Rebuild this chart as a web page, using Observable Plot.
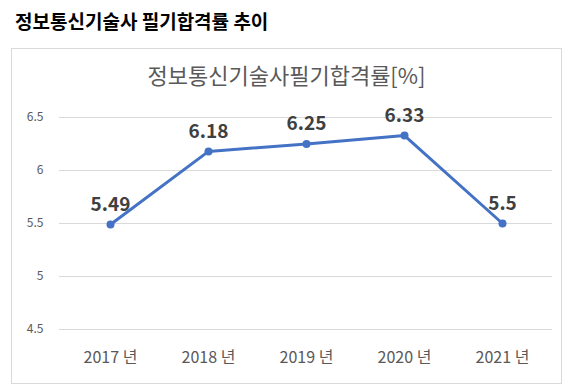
<!DOCTYPE html>
<html><head><meta charset="utf-8">
<script src="https://cdn.jsdelivr.net/npm/d3@7"></script>
<script src="https://cdn.jsdelivr.net/npm/@observablehq/plot@0.6"></script>
<style>
body{margin:0;background:#fff;font-family:"Noto Sans CJK KR","Noto Sans",sans-serif;}
#wrap{position:relative;width:573px;height:391px;overflow:hidden;}
#title{position:absolute;left:15px;top:7px;font-weight:bold;font-size:19px;line-height:28px;color:#000;white-space:nowrap;}
#box{position:absolute;left:11px;top:48px;width:549px;height:334px;border:1px solid #d9d9d9;}
#ctitle{position:absolute;left:11px;width:551px;top:58px;line-height:32px;text-align:center;font-size:22px;color:#595959;white-space:nowrap;}
#chart{position:absolute;left:0;top:90px;}
</style></head>
<body>
<div id="wrap">
<div id="title">정보통신기술사 필기합격률 추이</div>
<div id="box"></div>
<div id="ctitle">정보통신기술사필기합격률[%]</div>
<div id="chart"></div>
</div>
<script>
const years = ["2017 년","2018 년","2019 년","2020 년","2021 년"];
const rates = [5.49, 6.18, 6.25, 6.33, 5.5];
const yTicks = [4.5, 5, 5.5, 6, 6.5];
const data = years.map((y,i)=>({year:y, rate:rates[i]}));
const fontFam = '"Noto Sans CJK KR","Noto Sans",sans-serif';
const plot = Plot.plot({
  width: 573, height: 301,
  marginLeft: 59, marginRight: 21, marginTop: 27, marginBottom: 62,
  style: {fontFamily: fontFam, background: "transparent", overflow: "visible"},
  x: {type: "point", domain: years, padding: 0.5, label: null},
  y: {domain: [4.5, 6.5], label: null},
  marks: [
    Plot.gridY(yTicks, {stroke: "#d9d9d9", strokeOpacity: 1, strokeWidth: 1}),
    Plot.axisY(yTicks, {tickSize: 0, tickPadding: 16, fontSize: 12, fill: "#595959", tickFormat: d => String(d), label: null}),
    Plot.axisX({tickSize: 0, tickPadding: 22, fontSize: 16, fill: "#595959", label: null}),
    Plot.line(data, {x: "year", y: "rate", stroke: "#4472C4", strokeWidth: 3}),
    Plot.dot(data, {x: "year", y: "rate", r: 4, fill: "#4472C4", stroke: "none"}),
    Plot.text(data, {x: "year", y: "rate", text: d => String(d.rate), dy: -20, fontSize: 19, fontWeight: "bold", fill: "#404040", letterSpacing: "0.5px"})
  ]
});
document.getElementById("chart").appendChild(plot);
</script>
</body></html>
